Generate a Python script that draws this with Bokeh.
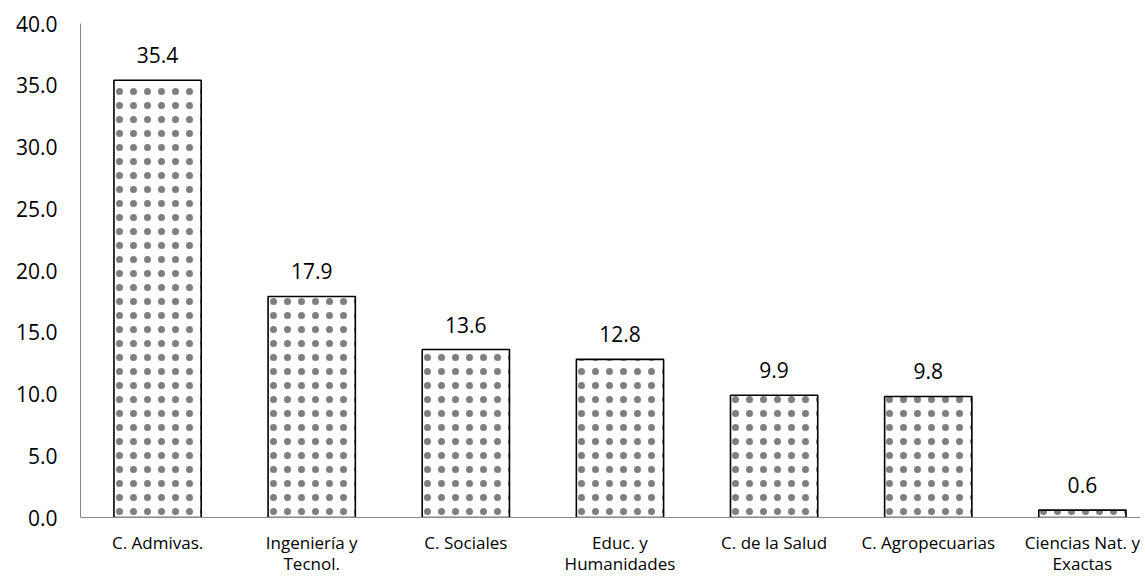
from bokeh.plotting import figure
from bokeh.models import Range1d, FixedTicker, ColumnDataSource
from bokeh.core.properties import value
from bokeh.embed import file_html
from bokeh.resources import INLINE

categories = ["C. Admivas.", "Ingeniería y\nTecnol.", "C. Sociales", "Educ. y\nHumanidades",
              "C. de la Salud", "C. Agropecuarias", "Ciencias Nat. y\nExactas"]
values = [35.4, 17.9, 13.6, 12.8, 9.9, 9.8, 0.6]
y_ticks = [0, 5, 10, 15, 20, 25, 30, 35, 40]

FONT = "Open Sans"

xs = list(range(len(categories)))
src = ColumnDataSource(dict(x=xs, top=values, label=[f"{v:.1f}" for v in values]))

p = figure(width=1140, height=577, output_backend="svg", toolbar_location=None,
           x_range=Range1d(-0.5, 6.377), y_range=Range1d(0, 40),
           min_border_left=80, min_border_right=0, min_border_top=23, min_border_bottom=60)
p.outline_line_color = None
p.xgrid.visible = False
p.ygrid.visible = False

p.vbar(x="x", top="top", width=0.566, source=src, fill_color="white",
       line_color="black", line_width=1.6,
       hatch_pattern=".", hatch_scale=14, hatch_weight=0.1, hatch_color="black",
       hatch_alpha=0.5)

p.text(x="x", y="top", text="label", source=src, text_align="center",
       text_baseline="alphabetic", y_offset=-25, text_font=value(FONT),
       text_font_size="21px", text_color="black")

p.yaxis.ticker = FixedTicker(ticks=y_ticks)
p.yaxis.major_label_overrides = {t: f"{t:.1f}" for t in y_ticks}
p.yaxis.major_tick_line_color = None
p.yaxis.major_tick_out = 0
p.yaxis.major_tick_in = 0
p.yaxis.minor_tick_line_color = None
p.yaxis.axis_line_color = "#898989"
p.yaxis.major_label_standoff = 23
p.yaxis.major_label_text_font = FONT
p.yaxis.major_label_text_font_size = "21px"
p.yaxis.major_label_text_color = "black"

p.xaxis.ticker = FixedTicker(ticks=xs)
p.xaxis.major_label_overrides = {i: c for i, c in zip(xs, categories)}
p.xaxis.major_tick_line_color = None
p.xaxis.major_tick_out = 0
p.xaxis.major_tick_in = 0
p.xaxis.minor_tick_line_color = None
p.xaxis.axis_line_color = "#898989"
p.xaxis.major_label_standoff = 13
p.xaxis.major_label_text_font = FONT
p.xaxis.major_label_text_font_size = "17px"
p.xaxis.major_label_text_line_height = 0.92
p.xaxis.major_label_text_color = "black"

open("out.html", "w").write(file_html(p, INLINE))
